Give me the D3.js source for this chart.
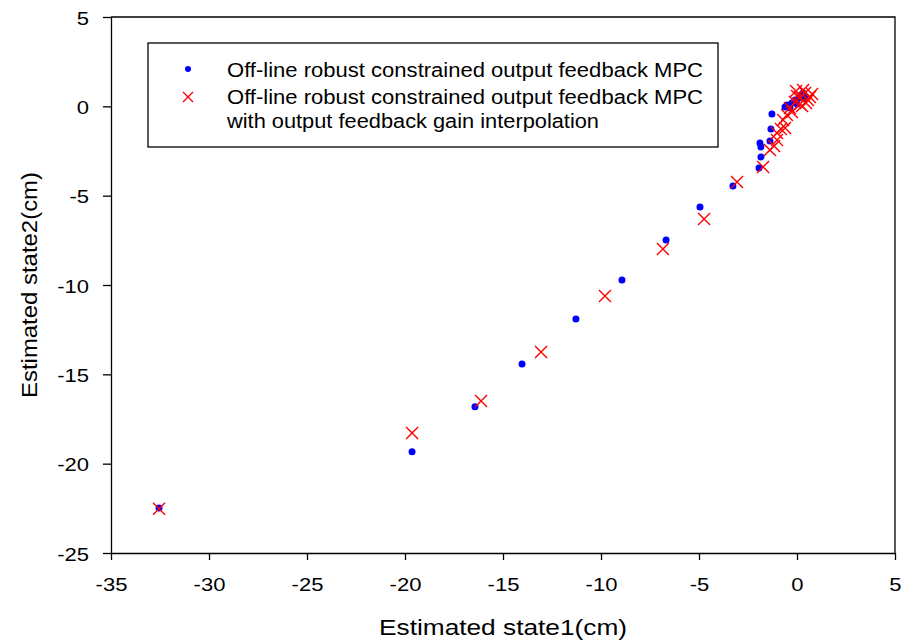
<!DOCTYPE html>
<html><head><meta charset="utf-8">
<script src="https://cdn.jsdelivr.net/npm/d3@7/dist/d3.min.js"></script>
<style>body{margin:0;background:#fff}svg{display:block}text{font-family:"Liberation Sans",Arial,sans-serif;fill:#000}</style>
</head><body><svg id="c" width="901" height="641"></svg>
<script>
const xTicks = [-35,-30,-25,-20,-15,-10,-5,0,5];
const yTicks = [5,0,-5,-10,-15,-20,-25];
const blueX = [-32.55,-19.64,-16.43,-14.03,-11.28,-8.93,-6.68,-4.95,-3.27,-1.94,-1.84,-1.84,-1.89,-1.38,-1.33,-1.28,-0.61,-0.51,-0.36,-0.26,-0.10,0.00,0.10,0.20,0.31,0.41];
const blueY = [-22.48,-19.34,-16.82,-14.42,-11.90,-9.72,-7.48,-5.63,-4.46,-3.45,-2.83,-2.27,-2.05,-1.94,-1.27,-0.43,-0.04,0.08,-0.09,0.19,0.36,0.13,0.47,0.64,0.75,0.47];
const redX = [-32.55,-19.64,-16.12,-13.06,-9.80,-6.84,-4.74,-3.06,-1.73,-1.38,-1.17,-1.02,-1.02,-0.82,-0.61,-0.71,-0.51,-0.36,-0.26,-0.10,0.00,0.15,0.15,0.26,0.41,0.46,0.56,0.66,0.77,-0.05,0.31];
const redY = [-22.53,-18.28,-16.49,-13.75,-10.61,-7.98,-6.30,-4.23,-3.39,-2.44,-2.22,-1.88,-1.49,-1.27,-1.21,-0.76,-0.48,-0.09,-0.32,0.24,0.58,0.52,0.13,0.02,0.75,0.19,0.36,0.52,0.69,0.86,0.91];
const legendLabels = ["Off-line robust constrained output feedback MPC","Off-line robust constrained output feedback MPC","with output feedback gain interpolation"];
const xTitle = "Estimated state1(cm)", yTitle = "Estimated state2(cm)";

const svg = d3.select("#c");
const L=111,R=895,T=17,B=553;
const SX=1.16;
const x = d3.scaleLinear().domain([-35,5]).range([L,R]);
const y = d3.scaleLinear().domain([-25,5]).range([B,T]);

svg.append("path").attr("d",`M${L},${T}H${R}V${B}`).attr("fill","none").attr("stroke","#000").attr("stroke-width",1.3);

const fmt = d=>String(d);
const xa = svg.append("g").attr("transform",`translate(0,${B})`)
  .call(d3.axisBottom(x).tickValues(xTicks).tickFormat(fmt).tickSize(7).tickSizeOuter(0));
const ya = svg.append("g").attr("transform",`translate(${L},0)`)
  .call(d3.axisLeft(y).tickValues(yTicks).tickFormat(fmt).tickSize(8).tickSizeOuter(0));
[xa,ya].forEach(g=>{g.select(".domain").attr("stroke","#000").attr("stroke-width",1.3);
  g.selectAll(".tick line").attr("stroke","#000").attr("stroke-width",1.3);
  g.selectAll(".tick text").attr("font-family","Liberation Sans, Arial, sans-serif").attr("font-size",19).attr("fill","#000");});
xa.selectAll(".tick text").attr("y",null).attr("dy",null).attr("transform",`translate(0,38) scale(${SX},1)`);
ya.selectAll(".tick text").attr("x",null).attr("dy",null).attr("transform",`translate(-22,7) scale(${SX},1)`);

svg.append("text").attr("x",(L+R)/2).attr("y",635).attr("text-anchor","middle").attr("font-size",22)
  .attr("textLength",248).attr("lengthAdjust","spacingAndGlyphs").text(xTitle);
svg.append("text").attr("transform",`translate(37,${(T+B)/2}) rotate(-90)`).attr("text-anchor","middle").attr("font-size",22)
  .attr("textLength",226).attr("lengthAdjust","spacingAndGlyphs").text(yTitle);

const blue = blueX.map((v,i)=>[v,blueY[i]]);
const red = redX.map((v,i)=>[v,redY[i]]);
const cross = (g,s)=>g.append("path").attr("d",`M${-s},${-s}L${s},${s}M${-s},${s}L${s},${-s}`).attr("stroke","#ff0000").attr("stroke-width",1.4).attr("fill","none");

svg.append("g").selectAll("circle").data(blue).join("circle")
  .attr("cx",d=>x(d[0])).attr("cy",d=>y(d[1])).attr("r",3.5).attr("fill","#0000ff");
svg.append("g").selectAll("g").data(red).join("g")
  .attr("transform",d=>`translate(${x(d[0])},${y(d[1])})`).each(function(){cross(d3.select(this),6);});

const lg = svg.append("g");
lg.append("rect").attr("x",148).attr("y",43).attr("width",570).attr("height",104).attr("fill","#fff").attr("stroke","#000").attr("stroke-width",1.3);
lg.append("circle").attr("cx",188).attr("cy",69).attr("r",3).attr("fill","#0000ff");
cross(lg.append("g").attr("transform","translate(188,97)"),5);
const ly=[77,104,128], lw=[476,476,372];
legendLabels.forEach((t,i)=>lg.append("text").attr("x",227).attr("y",ly[i]).attr("font-size",20)
  .attr("textLength",lw[i]).attr("lengthAdjust","spacingAndGlyphs").text(t));
</script></body></html>
